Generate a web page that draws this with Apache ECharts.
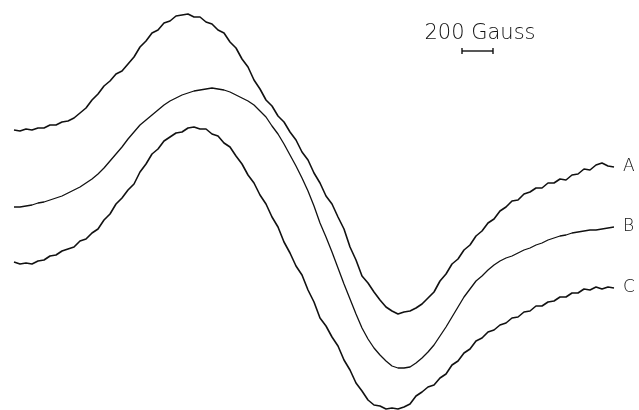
<!DOCTYPE html>
<html>
<head>
<meta charset="utf-8">
<title>ESR spectra A, B, C</title>
<script src="https://cdn.jsdelivr.net/npm/echarts@6/dist/echarts.min.js"></script>
<style>
  html, body { margin: 0; padding: 0; background: #fff; }
  #chart { width: 639px; height: 410px; }
</style>
</head>
<body>
<div id="chart"></div>
<script>
// field position along the sweep (chart units), shared by all three traces
const field = [
  0, 6, 12, 18, 24, 30, 36, 42, 48, 54,
  60, 66, 72, 78, 84, 90, 96, 102, 108, 114,
  120, 126, 132, 138, 144, 150, 156, 162, 168, 174,
  180, 186, 192, 198, 204, 210, 216, 222, 228, 234,
  240, 246, 252, 258, 264, 270, 276, 282, 288, 294,
  300, 306, 312, 318, 324, 330, 336, 342, 348, 354,
  360, 366, 372, 378, 384, 390, 396, 402, 408, 414,
  420, 426, 432, 438, 444, 450, 456, 462, 468, 474,
  480, 486, 492, 498, 504, 510, 516, 522, 528, 534,
  540, 546, 552, 558, 564, 570, 576, 582, 588, 594,
  600
];

// pen deflection measured downward from the top of the record
const traceA = [
  130, 131, 129, 130, 128, 128, 125, 125, 122, 121,
  118, 113, 108, 100, 94, 86, 81, 74, 71, 64,
  57, 47, 41, 33, 30, 23, 21, 16, 15, 14,
  17, 17, 22, 24, 30, 33, 42, 48, 59, 67,
  80, 89, 100, 106, 116, 122, 132, 140, 152, 160,
  173, 183, 196, 204, 217, 229, 247, 260, 276, 283,
  292, 300, 307, 311, 314, 312, 311, 308, 304, 298,
  292, 281, 274, 264, 259, 250, 245, 236, 231, 223,
  219, 211, 207, 201, 200, 194, 192, 188, 188, 183,
  183, 179, 180, 175, 174, 169, 170, 165, 163, 166,
  167
];

const traceB = [
  207, 207, 206, 205, 203, 202, 200, 198, 196, 193,
  190, 187, 183, 179, 174, 168, 161, 154, 147, 139,
  132, 125, 120, 115, 110, 105, 101, 98, 95, 93,
  91, 90, 89, 88, 89, 90, 92, 95, 98, 101,
  105, 111, 117, 126, 134, 144, 155, 166, 178, 191,
  206, 223, 237, 252, 268, 284, 299, 314, 328, 339,
  348, 355, 361, 366, 368, 368, 367, 363, 358, 352,
  345, 336, 327, 317, 307, 297, 289, 281, 276, 270,
  265, 261, 258, 256, 253, 250, 248, 245, 243, 240,
  238, 236, 235, 233, 232, 231, 230, 230, 229, 228,
  227
];

const traceC = [
  262, 264, 263, 264, 261, 260, 256, 255, 251, 249,
  247, 241, 239, 233, 229, 220, 214, 204, 198, 190,
  184, 172, 164, 154, 149, 141, 137, 133, 132, 128,
  127, 129, 129, 134, 136, 143, 147, 156, 164, 175,
  183, 195, 204, 217, 227, 242, 253, 266, 275, 290,
  302, 318, 326, 337, 346, 360, 370, 383, 391, 400,
  405, 406, 409, 408, 409, 407, 404, 396, 392, 387,
  385, 378, 374, 365, 361, 353, 349, 341, 338, 332,
  330, 325, 323, 318, 317, 312, 311, 306, 306, 302,
  301, 297, 297, 293, 293, 289, 290, 287, 289, 287,
  288
];

const traceNames = ['A', 'B', 'C'];

// 200 Gauss scale bar
const scaleBarField = [448, 479];
const scaleBarLevel = 51;
const scaleBarText = '200 Gauss';

const chart = echarts.init(document.getElementById('chart'));

const lightFont = '"DejaVu Sans", "Noto Sans", sans-serif';

const makeTrace = (name, values, width) => ({
  name: name,
  type: 'line',
  data: field.map((f, i) => [f, values[i]]),
  showSymbol: false,
  symbol: 'none',
  smooth: false,
  lineStyle: { color: '#111', width: width },
  endLabel: {
    show: true,
    formatter: '{a}',
    distance: 9,
    color: '#111',
    fontFamily: lightFont,
    fontWeight: 200,
    fontSize: 17
  },
  emphasis: { disabled: true }
});

const option = {
  animation: false,
  backgroundColor: '#ffffff',
  grid: {
    left: 14,
    right: 25,
    top: 0,
    bottom: 0
  },
  xAxis: {
    type: 'value',
    min: 0,
    max: 600,
    show: false
  },
  yAxis: {
    type: 'value',
    min: 0,
    max: 410,
    inverse: true,
    show: false
  },
  graphic: [
    {
      type: 'text',
      x: 480,
      y: 34,
      style: {
        text: scaleBarText,
        textAlign: 'center',
        textVerticalAlign: 'middle',
        fill: '#111',
        font: '200 21px ' + lightFont
      }
    }
  ],
  series: [
    makeTrace(traceNames[0], traceA, 1.6),
    makeTrace(traceNames[1], traceB, 1.3),
    makeTrace(traceNames[2], traceC, 1.6),
    {
      name: 'scale',
      type: 'line',
      data: scaleBarField.map(f => [f, scaleBarLevel]),
      symbol: 'rect',
      symbolSize: [1.4, 6],
      itemStyle: { color: '#111' },
      lineStyle: { color: '#111', width: 1.4 },
      emphasis: { disabled: true }
    }
  ]
};

chart.setOption(option);
</script>
</body>
</html>
